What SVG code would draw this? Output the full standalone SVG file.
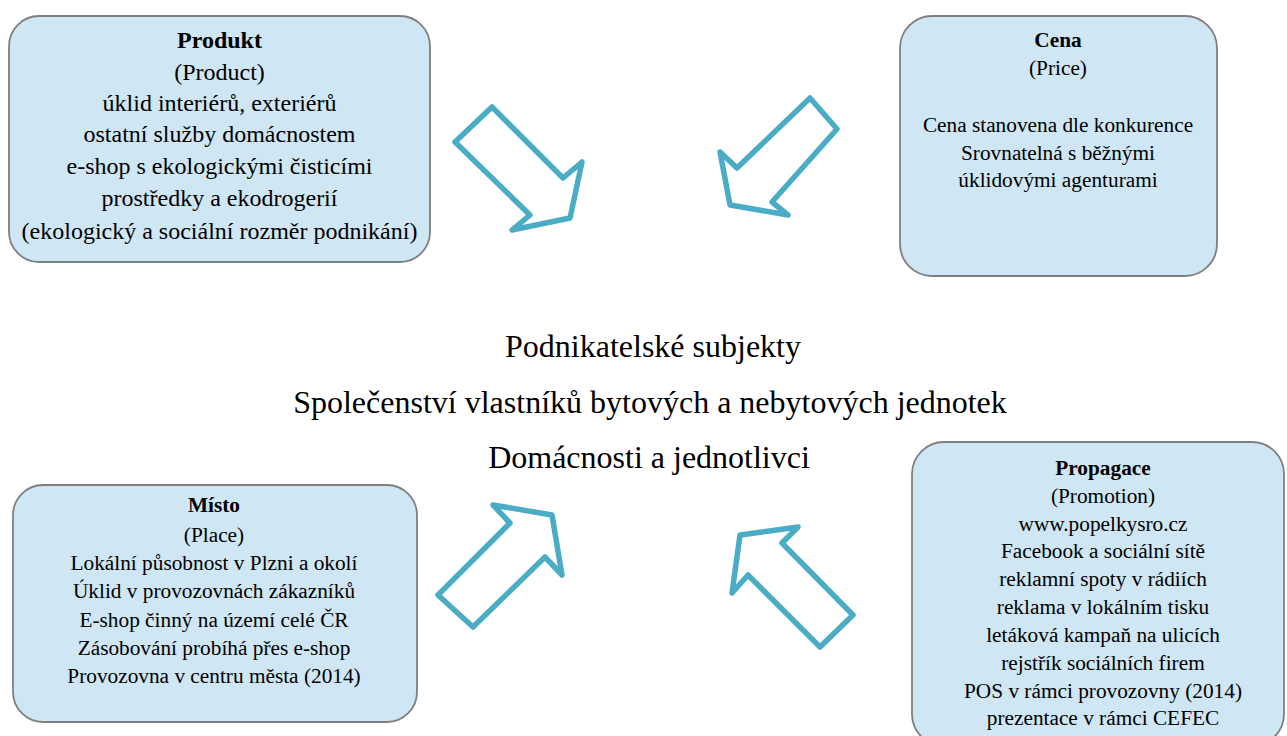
<svg xmlns="http://www.w3.org/2000/svg" width="1287" height="736" viewBox="0 0 1287 736">
<style>
.box{fill:#CFE6F4;stroke:#7F7F7F;stroke-width:1.8}
.t{font-family:"Liberation Serif","Times New Roman",serif;fill:#000;text-anchor:middle}
.b{font-weight:bold}
.arr{fill:#FFFFFF;stroke:#4BACC6;stroke-width:5.5;stroke-linejoin:round}
</style>
<rect width="1287" height="736" fill="#FFFFFF"/>
<g id="produkt">
<rect class="box" x="9" y="16" width="421" height="246" rx="30"/>
<g class="t" font-size="24">
<text class="b" x="219.5" y="48">Produkt</text>
<text x="219.5" y="80">(Product)</text>
<text x="219.5" y="111">úklid interiérů, exteriérů</text>
<text x="219.5" y="142">ostatní služby domácnostem</text>
<text x="219.5" y="174">e-shop s ekologickými čisticími</text>
<text x="219.5" y="206">prostředky a ekodrogerií</text>
<text x="219.5" y="239">(ekologický a sociální rozměr podnikání)</text>
</g>
</g>
<g id="cena">
<rect class="box" x="900" y="16" width="317" height="260" rx="32"/>
<g class="t" font-size="21.3">
<text class="b" x="1058" y="47">Cena</text>
<text x="1058" y="75">(Price)</text>
<text x="1058" y="132">Cena stanovena dle konkurence</text>
<text x="1058" y="160">Srovnatelná s běžnými</text>
<text x="1058" y="187">úklidovými agenturami</text>
</g>
</g>
<g id="misto">
<rect class="box" x="13" y="485" width="404" height="237" rx="30"/>
<g class="t" font-size="21.3">
<text class="b" x="214" y="512">Místo</text>
<text x="214" y="542">(Place)</text>
<text x="214" y="570">Lokální působnost v Plzni a okolí</text>
<text x="214" y="598">Úklid v provozovnách zákazníků</text>
<text x="214" y="627">E-shop činný na území celé ČR</text>
<text x="214" y="655">Zásobování probíhá přes e-shop</text>
<text x="214" y="683">Provozovna v centru města (2014)</text>
</g>
</g>
<g id="propagace">
<rect class="box" x="912" y="442" width="372" height="304" rx="32"/>
<g class="t" font-size="21.3">
<text class="b" x="1103" y="475">Propagace</text>
<text x="1103" y="503">(Promotion)</text>
<text x="1103" y="531">www.popelkysro.cz</text>
<text x="1103" y="558">Facebook a sociální sítě</text>
<text x="1103" y="586">reklamní spoty v rádiích</text>
<text x="1103" y="614">reklama v lokálním tisku</text>
<text x="1103" y="642">letáková kampaň na ulicích</text>
<text x="1103" y="670">rejstřík sociálních firem</text>
<text x="1103" y="698">POS v rámci provozovny (2014)</text>
<text x="1103" y="725">prezentace v rámci CEFEC</text>
</g>
</g>
<g id="center">
<g class="t" font-size="32">
<text x="653" y="357">Podnikatelské subjekty</text>
<text x="650" y="413">Společenství vlastníků bytových a nebytových jednotek</text>
<text x="649" y="468">Domácnosti a jednotlivci</text>
</g>
</g>
<g id="connectors">
<polygon class="arr" points="492,107 563,178 582,162 570,218 512,230 530,215 455,142"/>
<polygon class="arr" points="810,98 837,129 772,202 788,215 730,205 720,152 737,168"/>
<polygon class="arr" points="438,595 473,627 545,557 562,575 552,515 493,505 510,523"/>
<polygon class="arr" points="853,615 820,647 748,575 732,593 740,535 798,527 782,543"/>
</g>
</svg>
